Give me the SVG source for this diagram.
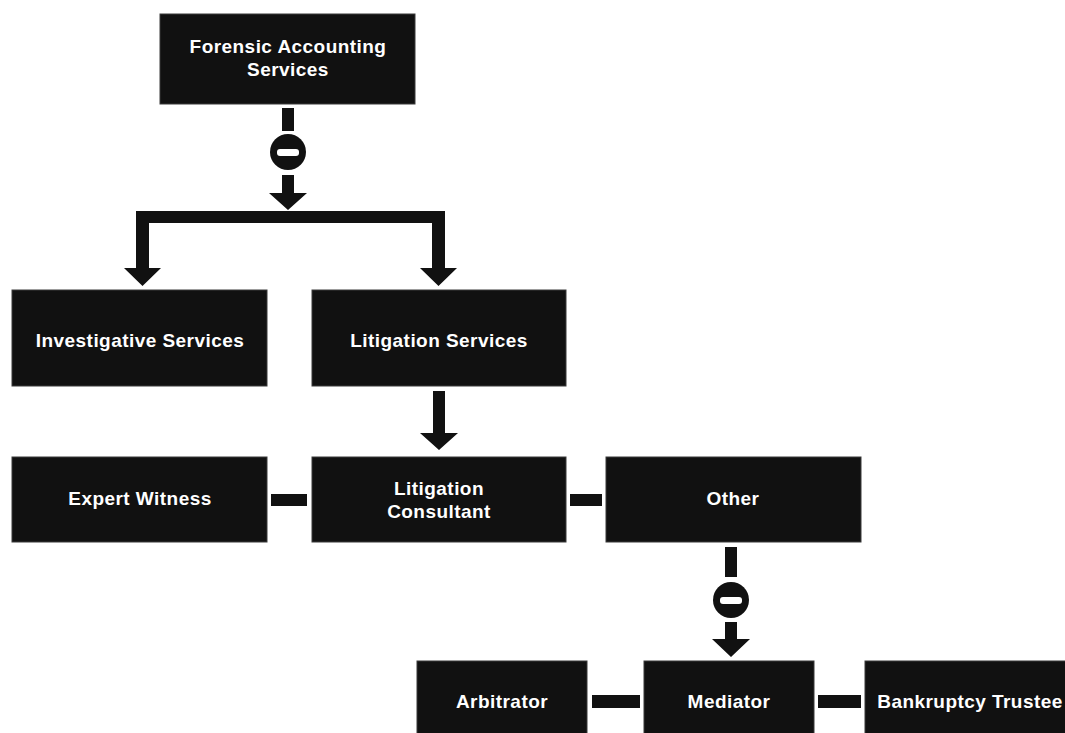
<svg xmlns="http://www.w3.org/2000/svg" width="1065" height="733" viewBox="0 0 1065 733">
<style>
.box{fill:#111;stroke:#3a3a3a;stroke-width:1}
.lbl{fill:#fff;font-family:"Liberation Sans",Arial,sans-serif;font-weight:bold;font-size:19px;letter-spacing:0.45px;text-anchor:middle}
.conn{fill:#111}
.minus{fill:#fff}
</style>
<rect width="1065" height="733" fill="#fff"/>
<g id="connectors">
  <rect class="conn" x="282" y="108" width="12" height="23"/>
  <circle class="conn" cx="288" cy="152" r="18"/>
  <rect class="minus" x="277" y="149" width="22" height="7" rx="3"/>
  <path class="conn" d="M282,175 H294 V193 H307 L288,210 L269,193 H282 Z"/>
  <path class="conn" d="M136,211 H445 V268 H457 L438.5,286 L420,268 H432 V223 H149 V268 H161 L142.5,286 L124,268 H136 Z"/>
  <path class="conn" d="M433,391 H445 V433 H458 L439,450 L420,433 H433 Z"/>
  <rect class="conn" x="271" y="494" width="36" height="12"/>
  <rect class="conn" x="570" y="494" width="32" height="12"/>
  <rect class="conn" x="725" y="547" width="12" height="30"/>
  <circle class="conn" cx="731" cy="600" r="18"/>
  <rect class="minus" x="720" y="597" width="22" height="7" rx="3"/>
  <path class="conn" d="M725,622 H737 V639 H750 L731,657 L712,639 H725 Z"/>
  <rect class="conn" x="592" y="695" width="48" height="13"/>
  <rect class="conn" x="818" y="695" width="43" height="13"/>
</g>
<g id="forensic">
  <rect class="box" x="160" y="14" width="255" height="90"/>
  <text class="lbl" x="288" y="53">Forensic Accounting</text>
  <text class="lbl" x="288" y="76">Services</text>
</g>
<g id="investigative">
  <rect class="box" x="12" y="290" width="255" height="96"/>
  <text class="lbl" x="140" y="347">Investigative Services</text>
</g>
<g id="litigation-services">
  <rect class="box" x="312" y="290" width="254" height="96"/>
  <text class="lbl" x="439" y="347">Litigation Services</text>
</g>
<g id="expert-witness">
  <rect class="box" x="12" y="457" width="255" height="85"/>
  <text class="lbl" x="140" y="505">Expert Witness</text>
</g>
<g id="litigation-consultant">
  <rect class="box" x="312" y="457" width="254" height="85"/>
  <text class="lbl" x="439" y="495">Litigation</text>
  <text class="lbl" x="439" y="518">Consultant</text>
</g>
<g id="other">
  <rect class="box" x="606" y="457" width="255" height="85"/>
  <text class="lbl" x="733" y="505">Other</text>
</g>
<g id="arbitrator">
  <rect class="box" x="417" y="661" width="170" height="90"/>
  <text class="lbl" x="502" y="708">Arbitrator</text>
</g>
<g id="mediator">
  <rect class="box" x="644" y="661" width="170" height="90"/>
  <text class="lbl" x="729" y="708">Mediator</text>
</g>
<g id="bankruptcy-trustee">
  <rect class="box" x="865" y="661" width="215" height="90"/>
  <text class="lbl" x="970" y="708">Bankruptcy Trustee</text>
</g>
</svg>
